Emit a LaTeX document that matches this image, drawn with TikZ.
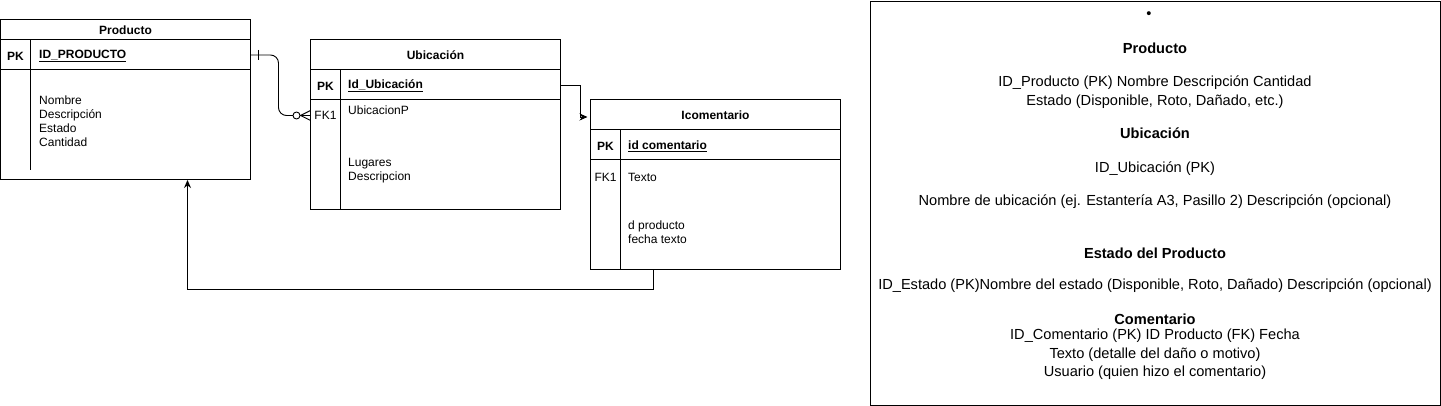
\documentclass[tikz,border=0pt]{standalone}
\usepackage{fontspec}
\setmainfont{Liberation Sans}
\usetikzlibrary{arrows.meta,positioning}

\newcommand{\divisor}[3]{
\draw[line width=1pt] (#1, #2) -- (#1, #3);
}

\tikzset{
caja/.style={draw, line width=1pt, minimum width=250pt, inner sep=0pt, outer sep=0pt, font={\fontsize{12}{14}\selectfont\bfseries}},
campo/.style={anchor=west, inner sep=0pt, align=left, font={\fontsize{12}{14}\selectfont}},
clave/.style={inner sep=0pt, font={\fontsize{12}{14}\selectfont\bfseries}},
fk/.style={inner sep=0pt, font={\fontsize{12}{14}\selectfont}},
nota/.style={inner sep=0pt, align=center, font={\fontsize{14.6}{18.3}\selectfont}},
titulo/.style={inner sep=0pt, font={\fontsize{14.6}{18.3}\selectfont\bfseries}},
linea/.style={line width=0.9pt},
flecha/.style={line width=0.9pt, -{Stealth[length=8pt,width=7pt]}}
}

\begin{document}
\begin{tikzpicture}[x=1pt, y=-1pt]
\useasboundingbox (0,0) rectangle (1441,406);

\node[caja, minimum height=20pt, anchor=north west] (prodcab) at (0.5,20) {Producto};
\node[caja, minimum height=30pt, below=0pt of prodcab] (prodpk) {};
\node[caja, minimum height=110pt, below=0pt of prodpk] (prodcuerpo) {};
\node[clave] (prodpkl) at (15.5,56) {PK};
\node[campo, font={\fontsize{12}{14}\selectfont\bfseries}] (prodid) at (39,56) {\underline{ID\_PRODUCTO}};
\node[campo] (prodatr) at (39,121.5) {Nombre\\Descripción\\Estado\\Cantidad};
\divisor{30.5}{40}{170}

\node[caja, minimum height=30pt, anchor=north west] (ubicab) at (310.5,40) {Ubicación};
\node[caja, minimum height=30pt, below=0pt of ubicab] (ubipk) {};
\node[caja, minimum height=110pt, below=0pt of ubipk] (ubicuerpo) {};
\node[clave] (ubipkl) at (325.5,86) {PK};
\node[campo, font={\fontsize{12}{14}\selectfont\bfseries}] (ubiid) at (348,86) {\underline{Id\_Ubicación}};
\node[fk] (ubifk) at (325.5,115.5) {FK1};
\node[campo] (ubip) at (348,110.5) {UbicacionP};
\node[campo] (ubiatr) at (348,171) {Lugares\\Descripcion};
\divisor{340.5}{70}{210}

\node[caja, minimum height=30pt, anchor=north west] (comcab) at (590.5,100) {Icomentario};
\node[caja, minimum height=30pt, below=0pt of comcab] (compk) {};
\node[caja, minimum height=110pt, below=0pt of compk] (comcuerpo) {};
\node[clave] (compkl) at (605.5,146) {PK};
\node[campo, font={\fontsize{12}{14}\selectfont\bfseries}] (comid) at (628,146) {\underline{id comentario}};
\node[fk] (comfk) at (605.5,177.5) {FK1};
\node[campo] (comtexto) at (628,177.5) {Texto};
\node[campo] (comatr) at (628,232) {d producto\\fecha texto};
\divisor{620.5}{130}{270}

\coordinate (fkfin) at (ubicuerpo.west |- ubifk);
\draw[linea, rounded corners=8pt] (prodpk.east) -- ([xshift=28pt]prodpk.east) |- (fkfin);
\draw[linea] ([xshift=8pt,yshift=5pt]prodpk.east) -- ([xshift=8pt,yshift=-5pt]prodpk.east);
\draw[linea, fill=white] ([xshift=-14pt]fkfin) circle (3.5pt);
\draw[linea] ([xshift=-10pt]fkfin) -- ([yshift=5pt]fkfin);
\draw[linea] ([xshift=-10pt]fkfin) -- ([yshift=-5pt]fkfin);

\draw[flecha] (ubipk.east) -- ([xshift=20pt]ubipk.east) |- ([xshift=-3pt,yshift=-2pt]comcab.west);
\draw[flecha] ([xshift=-62pt]comcuerpo.south) -- ++(0,19) -| ([xshift=62pt]prodcuerpo.south);

\node[draw, linea, minimum width=570pt, minimum height=404pt, anchor=north west, inner sep=0pt, outer sep=0pt] (notas) at (870.5,1) {};
\node[nota] (punto) at (1149,15) {•};
\node[titulo] (tprod) at (1155,48.5) {Producto};
\node[nota] (nprod) at (1155,92) {ID\_Producto (PK) Nombre Descripción Cantidad\\Estado (Disponible, Roto, Dañado, etc.)};
\node[titulo] (tubi) at (1155,133.5) {Ubicación};
\node[nota] (nubi1) at (1155,168.5) {ID\_Ubicación (PK)};
\node[nota] (nubi2) at (1155,201.5) {Nombre de ubicación (ej. Estantería A3, Pasillo 2) Descripción (opcional)};
\node[titulo] (test) at (1155,253.5) {Estado del Producto};
\node[nota] (nest) at (1155,285.5) {ID\_Estado (PK)Nombre del estado (Disponible, Roto, Dañado) Descripción (opcional)};
\node[titulo] (tcom) at (1155,319.5) {Comentario};
\node[nota] (ncom) at (1155,354.5) {ID\_Comentario (PK) ID Producto (FK) Fecha\\Texto (detalle del daño o motivo)\\Usuario (quien hizo el comentario)};

\end{tikzpicture}
\end{document}
